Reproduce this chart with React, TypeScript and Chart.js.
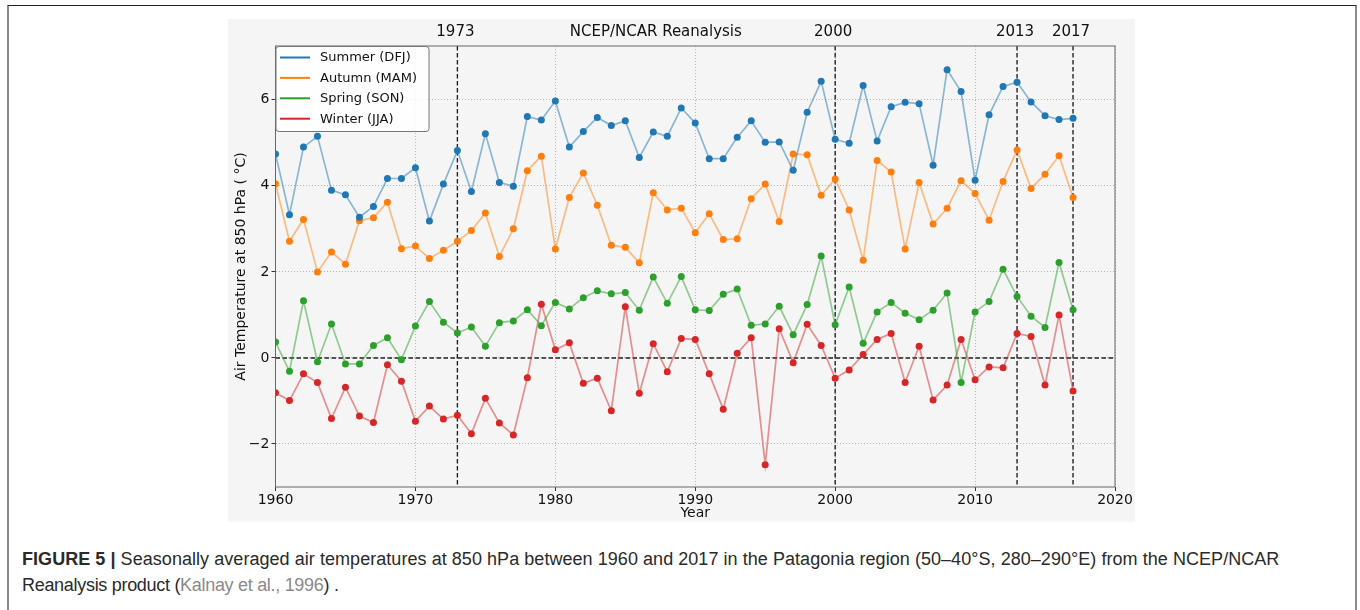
import React, { useEffect, useRef } from 'react';
import { Chart, registerables } from 'chart.js';

Chart.register(...registerables);

const startYear = 1960;

const summerDJF = [
  4.74, 3.33, 4.90, 5.15, 3.90, 3.79, 3.27, 3.52, 4.17, 4.17,
  4.42, 3.18, 4.04, 4.82, 3.87, 5.21, 4.08, 3.99, 5.61, 5.53,
  5.97, 4.90, 5.26, 5.59, 5.40, 5.51, 4.66, 5.25, 5.15, 5.81,
  5.46, 4.63, 4.63, 5.13, 5.51, 5.01, 5.02, 4.36, 5.71, 6.43,
  5.08, 4.99, 6.33, 5.04, 5.84, 5.94, 5.91, 4.48, 6.70, 6.19,
  4.13, 5.65, 6.31, 6.41, 5.95, 5.63, 5.54, 5.57,
];

const autumnMAM = [
  4.05, 2.71, 3.22, 2.00, 2.46, 2.18, 3.19, 3.26, 3.62, 2.54,
  2.60, 2.31, 2.50, 2.71, 2.96, 3.37, 2.36, 3.00, 4.35, 4.69,
  2.53, 3.73, 4.30, 3.55, 2.62, 2.57, 2.21, 3.84, 3.44, 3.48,
  2.91, 3.35, 2.75, 2.77, 3.70, 4.04, 3.17, 4.74, 4.72, 3.78,
  4.16, 3.44, 2.27, 4.59, 4.32, 2.53, 4.08, 3.11, 3.48, 4.12,
  3.82, 3.20, 4.10, 4.83, 3.94, 4.27, 4.70, 3.73,
];

const springSON = [
  0.37, -0.31, 1.33, -0.09, 0.79, -0.14, -0.14, 0.29, 0.47, -0.04,
  0.74, 1.31, 0.83, 0.58, 0.72, 0.27, 0.82, 0.86, 1.12, 0.75,
  1.29, 1.14, 1.40, 1.56, 1.49, 1.52, 1.11, 1.88, 1.27, 1.89,
  1.12, 1.10, 1.48, 1.60, 0.76, 0.79, 1.20, 0.54, 1.24, 2.37,
  0.77, 1.65, 0.34, 1.07, 1.29, 1.04, 0.89, 1.11, 1.51, -0.57,
  1.07, 1.31, 2.06, 1.43, 0.97, 0.71, 2.22, 1.12,
];

const winterJJA = [
  -0.81, -0.99, -0.37, -0.57, -1.41, -0.68, -1.35, -1.50, -0.16, -0.54,
  -1.47, -1.12, -1.42, -1.33, -1.76, -0.94, -1.51, -1.79, -0.46, 1.25,
  0.19, 0.35, -0.59, -0.47, -1.23, 1.19, -0.82, 0.33, -0.32, 0.45,
  0.43, -0.37, -1.19, 0.11, 0.47, -2.48, 0.68, -0.11, 0.78, 0.29,
  -0.47, -0.28, 0.08, 0.43, 0.57, -0.57, 0.27, -0.98, -0.63, 0.43,
  -0.51, -0.21, -0.23, 0.57, 0.50, -0.63, 1.00, -0.77,
];

const years = summerDJF.map((_, i) => startYear + i);
const markerYears = [1973, 2000, 2013, 2017];
const xTickValues = [1960, 1970, 1980, 1990, 2000, 2010, 2020];
const yTickValues = [-2, 0, 2, 4, 6];
const seriesLabels = ['Summer (DFJ)', 'Autumn (MAM)', 'Spring (SON)', 'Winter (JJA)'];
const seriesColors = ['#1f77b4', '#ff7f0e', '#2ca02c', '#d62728'];
const seriesValues = [summerDJF, autumnMAM, springSON, winterJJA];
const chartTitle = 'NCEP/NCAR Reanalysis';
const xAxisTitle = 'Year';
const yAxisTitle = 'Air Temperature at 850 hPa ( °C)';

const FONT = '"DejaVu Sans", Verdana, sans-serif';

function withAlpha(hex: string, a: number) {
  const r = parseInt(hex.slice(1, 3), 16);
  const g = parseInt(hex.slice(3, 5), 16);
  const b = parseInt(hex.slice(5, 7), 16);
  return `rgba(${r},${g},${b},${a})`;
}

const decorPlugin = {
  id: 'decor',
  beforeDatasetsDraw(chart: any) {
    const { ctx, chartArea: a, scales } = chart;
    const x = scales.x;
    const y = scales.y;
    ctx.save();
    ctx.strokeStyle = '#222';
    ctx.lineWidth = 1.4;
    ctx.setLineDash([4.5, 2.5]);
    for (const yr of markerYears) {
      const px = x.getPixelForValue(yr);
      ctx.beginPath();
      ctx.moveTo(px, a.top);
      ctx.lineTo(px, a.bottom);
      ctx.stroke();
    }
    const py = y.getPixelForValue(0);
    ctx.beginPath();
    ctx.moveTo(a.left, py);
    ctx.lineTo(a.right, py);
    ctx.stroke();
    ctx.restore();
  },
  afterDatasetsDraw(chart: any) {
    const { ctx, chartArea: a } = chart;
    ctx.save();
    ctx.strokeStyle = '#666';
    ctx.lineWidth = 1;
    ctx.setLineDash([]);
    ctx.strokeRect(a.left, a.top, a.right - a.left, a.bottom - a.top);
    ctx.restore();
  },
  afterDraw(chart: any) {
    const { ctx, chartArea: a, scales } = chart;
    const x = scales.x;
    ctx.save();
    ctx.fillStyle = '#111';
    ctx.font = `15px ${FONT}`;
    ctx.textAlign = 'center';
    ctx.textBaseline = 'middle';
    const ty = a.top - 14;
    for (const yr of markerYears) {
      ctx.fillText(String(yr), x.getPixelForValue(yr) - 2, ty);
    }
    ctx.fillText(chartTitle, a.left + (a.right - a.left) * 0.453, ty);

    const x0 = a.left + 0.5;
    const y0 = a.top + 0.5;
    const w = 153;
    const h = 85;
    const r = 3;
    ctx.beginPath();
    ctx.moveTo(x0 + r, y0);
    ctx.lineTo(x0 + w - r, y0);
    ctx.quadraticCurveTo(x0 + w, y0, x0 + w, y0 + r);
    ctx.lineTo(x0 + w, y0 + h - r);
    ctx.quadraticCurveTo(x0 + w, y0 + h, x0 + w - r, y0 + h);
    ctx.lineTo(x0 + r, y0 + h);
    ctx.quadraticCurveTo(x0, y0 + h, x0, y0 + h - r);
    ctx.lineTo(x0, y0 + r);
    ctx.quadraticCurveTo(x0, y0, x0 + r, y0);
    ctx.closePath();
    ctx.fillStyle = 'rgba(255,255,255,0.85)';
    ctx.fill();
    ctx.strokeStyle = '#777';
    ctx.lineWidth = 1;
    ctx.stroke();
    ctx.font = `13px ${FONT}`;
    ctx.textAlign = 'left';
    ctx.textBaseline = 'middle';
    chart.data.datasets.forEach((ds: any, i: number) => {
      const cy = y0 + 11 + i * 20.4;
      ctx.strokeStyle = ds.pointBackgroundColor;
      ctx.lineWidth = 2;
      ctx.beginPath();
      ctx.moveTo(x0 + 4, cy);
      ctx.lineTo(x0 + 34, cy);
      ctx.stroke();
      ctx.fillStyle = '#111';
      ctx.fillText(ds.label, x0 + 44, cy + 0.5);
    });
    ctx.restore();
  },
};

function TemperatureChart() {
  const ref = useRef<HTMLCanvasElement | null>(null);
  useEffect(() => {
    if (!ref.current) return;
    const datasets = seriesValues.map((vals, i) => ({
      label: seriesLabels[i],
      data: years.map((yr, j) => ({ x: yr, y: vals[j] })),
      borderColor: withAlpha(seriesColors[i], 0.5),
      backgroundColor: seriesColors[i],
      pointBackgroundColor: seriesColors[i],
      pointBorderColor: seriesColors[i],
      pointBorderWidth: 0,
      pointRadius: 3.5,
      borderWidth: 1.7,
      tension: 0,
      fill: false,
    }));
    const chart = new Chart(ref.current, {
      type: 'line',
      data: { datasets },
      plugins: [decorPlugin],
      options: {
        animation: false,
        responsive: false,
        maintainAspectRatio: false,
        devicePixelRatio: 1,
        layout: { padding: { top: 27, right: 20, left: 0, bottom: 0 } },
        plugins: {
          legend: { display: false },
          title: { display: false },
          tooltip: { enabled: false },
        },
        scales: {
          x: {
            type: 'linear',
            min: 1960,
            max: 2020,
            afterBuildTicks: (s: any) => {
              s.ticks = xTickValues.map((v) => ({ value: v }));
            },
            afterFit: (s: any) => {
              s.height = 35;
            },
            ticks: {
              color: '#111',
              font: { family: FONT, size: 14 },
              padding: 1,
              maxRotation: 0,
              autoSkip: false,
              callback: (v: any) => String(v),
            },
            grid: {
              color: '#b5b5b5',
              lineWidth: 1,
              drawTicks: true,
              tickLength: 4,
              tickColor: '#333',
              tickWidth: 1,
              tickBorderDash: [],
            },
            border: { display: false, dash: [1, 2] },
            title: {
              display: true,
              text: xAxisTitle,
              color: '#111',
              font: { family: FONT, size: 14 },
              padding: { top: 0, bottom: 0 },
            },
          },
          y: {
            type: 'linear',
            min: -3,
            max: 7.25,
            afterBuildTicks: (s: any) => {
              s.ticks = yTickValues.map((v) => ({ value: v }));
            },
            afterFit: (s: any) => {
              s.width = 47.5;
            },
            ticks: {
              color: '#111',
              font: { family: FONT, size: 14 },
              padding: 2,
              autoSkip: false,
              callback: (v: any) => (v < 0 ? '\u2212' + Math.abs(v) : String(v)),
            },
            grid: {
              color: '#b5b5b5',
              lineWidth: 1,
              drawTicks: true,
              tickLength: 4,
              tickColor: '#333',
              tickWidth: 1,
              tickBorderDash: [],
            },
            border: { display: false, dash: [1, 2] },
            title: {
              display: true,
              text: yAxisTitle,
              color: '#111',
              font: { family: FONT, size: 14 },
              padding: { top: 5, bottom: 0 },
            },
          },
        },
      } as any,
    });
    return () => chart.destroy();
  }, []);
  return <canvas ref={ref} width={907} height={503} style={{ display: 'block', width: 907, height: 503 }} />;
}

export default function App() {
  return (
    <div
      style={{
        position: 'absolute',
        left: 0,
        top: 0,
        width: 1360,
        height: 610,
        overflow: 'hidden',
        background: '#fff',
      }}
    >
      <div
        style={{
          position: 'absolute',
          left: 7,
          top: 5,
          width: 1346,
          height: 700,
          borderTop: '1px solid #222',
          borderLeft: '2px solid #8a8a8a',
          borderRight: '2px solid #8a8a8a',
        }}
      />
      <div style={{ position: 'absolute', left: 228, top: 19, width: 907, height: 503, background: '#f5f5f5' }}>
        <TemperatureChart />
      </div>
      <div
        style={{
          position: 'absolute',
          left: 22,
          top: 547,
          font: '18px "Liberation Sans", Arial, sans-serif',
          lineHeight: '25.5px',
          color: '#2a2a2a',
          whiteSpace: 'nowrap',
          letterSpacing: '0.05px',
        }}
      >
        <b>FIGURE 5 |</b> Seasonally averaged air temperatures at 850 hPa between 1960 and 2017 in the Patagonia region
        (50–40°S, 280–290°E) from the NCEP/NCAR
        <br />
        <span style={{ letterSpacing: '-0.3px' }}>
          Reanalysis product (<span style={{ color: '#8a8a8a' }}>Kalnay et al., 1996</span>) .
        </span>
      </div>
    </div>
  );
}
